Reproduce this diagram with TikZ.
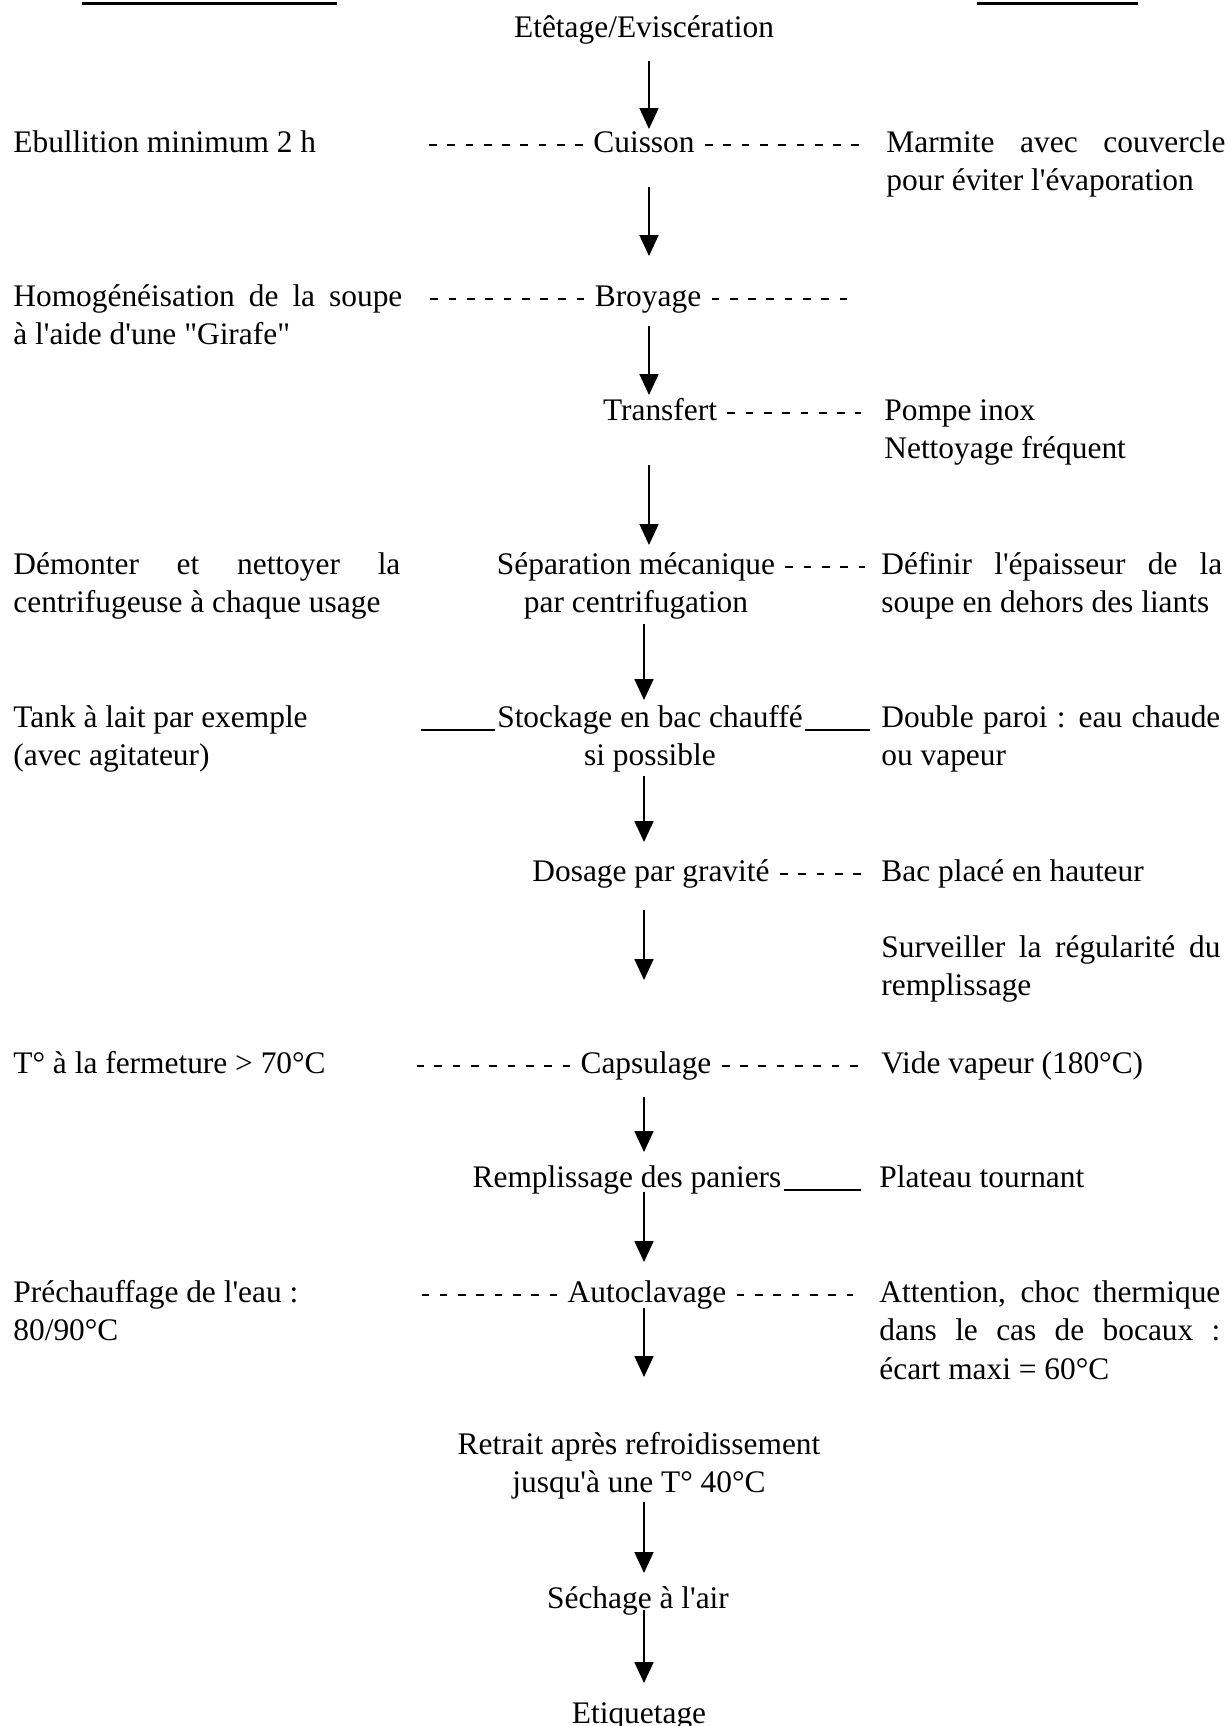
\documentclass[tikz,border=0pt]{standalone}
\usepackage{fontspec}
\setmainfont{Liberation Serif}[Ligatures=TeXOff]
\usetikzlibrary{positioning, arrows.meta, calc}

\begin{document}
\begin{tikzpicture}[
      x=0.5pt, y=-0.5pt,
      every node/.style={font=\fontsize{15.7}{19.25}\selectfont, inner sep=0pt},
      stepbox/.style={anchor=base, align=center, inner xsep=5pt},
      linkbox/.style={stepbox, inner xsep=1pt},
      note/.style={anchor=base west, align=left},
      jnote/.style={anchor=base west, text width=#1, align=justify,
        execute at begin node={\tolerance=10000\hyphenpenalty=10000\relax}},
      flow/.style={-{Triangle[width=9.5pt, length=10.5pt]}, line width=0.9pt},
      gap/.style 2 args={shorten <=#1, shorten >=#2},
      dots/.style={line width=1pt, dash pattern=on 3.85pt off 5.3pt},
      rule/.style={line width=0.8pt}
    ]
      \useasboundingbox (0,0) rectangle (1229,1726);

      \draw[line width=1.5pt] (82,3) -- (337,3);
      \draw[line width=1.5pt] (977,3) -- (1138,3);

      \coordinate (axisA) at (649,0);
      \coordinate (axisB) at (644,0);

      \node[stepbox] (etetage) at (644,37) {Etêtage/Eviscération};
      \node[stepbox] (cuisson) at (644,152) {Cuisson};
      \node[stepbox] (broyage) at (648,306) {Broyage};
      \node[stepbox] (transfert) at (660,420) {Transfert};
      \node[stepbox] (separation) at (636,612.5) {Séparation mécanique\\par centrifugation};
      \node[linkbox] (stockage) at (650,765.5) {Stockage en bac chauffé\\si possible};
      \node[stepbox] (dosage) at (651,881) {Dosage par gravité};
      \node[stepbox] (capsulage) at (646,1073) {Capsulage};
      \node[linkbox] (remplissage) at (627,1187) {Remplissage des paniers};
      \node[stepbox] (autoclavage) at (647,1302) {Autoclavage};
      \node[stepbox] (retrait) at (639,1492.5) {Retrait après refroidissement\\jusqu'à une T° 40°C};
      \node[stepbox] (sechage) at (638,1608) {Séchage à l'air};
      \node[stepbox] (etiquetage) at (639,1723) {Etiquetage};

      \node[note] (ebullition) at (13,152) {Ebullition minimum 2 h};
      \node[jnote=194.5pt] (homog) at (13,306) {Homogénéisation de la soupe\linebreak à l'aide d'une "Girafe"};
      \node[jnote=193.5pt] (demonter) at (13,574) {Démonter et nettoyer la\linebreak centrifugeuse à chaque usage};
      \node[note] (tank) at (13,765.5) {Tank à lait par exemple\\(avec agitateur)};
      \node[note] (temp) at (13,1073) {T° à la fermeture > 70°C};
      \node[note] (prechauf) at (13,1340.5) {Préchauffage de l'eau :\\80/90°C};

      \node[jnote=169.5pt] (marmite) at (886,152) {Marmite avec couvercle\linebreak pour éviter l'évaporation};
      \node[note] (pompe) at (884,458.5) {Pompe inox\\Nettoyage fréquent};
      \node[jnote=170.5pt] (definir) at (881,574) {Définir l'épaisseur de la\linebreak soupe en dehors des liants};
      \node[jnote=169.5pt] (paroi) at (881,727) {Double paroi : eau chaude\linebreak ou vapeur};
      \node[note] (bac) at (881,881) {Bac placé en hauteur};
      \node[jnote=169.5pt] (surveiller) at (881,957) {Surveiller la régularité du\linebreak remplissage};
      \node[note] (vide) at (881,1073) {Vide vapeur (180°C)};
      \node[note] (plateau) at (879,1187) {Plateau tournant};
      \node[jnote=170.5pt] (attention) at (879,1302) {Attention, choc thermique\linebreak dans le cas de bocaux :\linebreak écart maxi = 60°C};

      \draw[flow, gap={12pt}{11.5pt}] (etetage.base -| axisA) -- (cuisson.base -| axisA);
      \draw[flow, gap={17.5pt}{25pt}] (cuisson.base -| axisA) -- (broyage.base -| axisA);
      \draw[flow, gap={10pt}{12.5pt}] (broyage.base -| axisA) -- (transfert.base -| axisA);
      \draw[flow, gap={22.5pt}{33.75pt}] (transfert.base -| axisA) -- (separation.base -| axisA);
      \draw[flow, gap={5.75pt}{32.75pt}] (separation.base -| axisB) -- (stockage.base -| axisB);
      \draw[flow, gap={5.25pt}{19.5pt}] (stockage.base -| axisB) -- (dosage.base -| axisB);
      \draw[flow, gap={14.5pt}{46.5pt}] (dosage.base -| axisB) -- (capsulage.base -| axisB);
      \draw[flow, gap={12pt}{17.5pt}] (capsulage.base -| axisB) -- (remplissage.base -| axisB);
      \draw[flow, gap={2.5pt}{20pt}] (remplissage.base -| axisB) -- (autoclavage.base -| axisB);
      \draw[flow, gap={3pt}{57.75pt}] (autoclavage.base -| axisB) -- (retrait.base -| axisB);
      \draw[flow, gap={4.75pt}{17.5pt}] (retrait.base -| axisB) -- (sechage.base -| axisB);
      \draw[flow, gap={1pt}{20pt}] (sechage.base -| axisB) -- (etiquetage.base -| axisB);

      \coordinate (cuiL) at (428,145);
      \coordinate (cuiR) at (859,145);
      \coordinate (broL) at (430,299);
      \coordinate (broR) at (849,299);
      \coordinate (traR) at (861,413);
      \coordinate (sepR) at (865,567);
      \coordinate (stoL) at (421,730);
      \coordinate (stoR) at (870,730);
      \coordinate (dosR) at (861,874);
      \coordinate (capL) at (417,1066);
      \coordinate (capR) at (859,1066);
      \coordinate (remR) at (861,1190);
      \coordinate (autL) at (422,1295);
      \coordinate (autR) at (853,1295);

      \draw[dots] (cuisson.west |- cuiL) -- (cuiL);
      \draw[dots] (cuisson.east |- cuiR) -- (cuiR);
      \draw[dots] (broyage.west |- broL) -- (broL);
      \draw[dots] (broyage.east |- broR) -- (broR);
      \draw[dots] (transfert.east |- traR) -- (traR);
      \draw[dots] (separation.east |- sepR) -- (sepR);
      \draw[rule] (stoL) -- (stoL -| stockage.west);
      \draw[rule] (stockage.east |- stoR) -- (stoR);
      \draw[dots] (dosage.east |- dosR) -- (dosR);
      \draw[dots] (capsulage.west |- capL) -- (capL);
      \draw[dots] (capsulage.east |- capR) -- (capR);
      \draw[rule] (remplissage.east |- remR) -- (remR);
      \draw[dots] (autoclavage.west |- autL) -- (autL);
      \draw[dots] (autoclavage.east |- autR) -- (autR);
    \end{tikzpicture}
\end{document}
